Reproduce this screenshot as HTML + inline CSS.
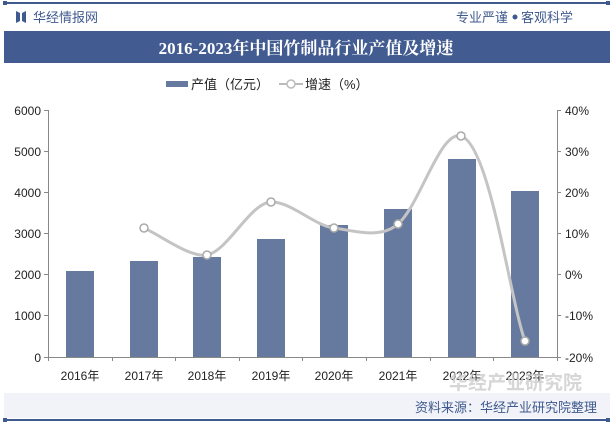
<!DOCTYPE html>
<html><head><meta charset="utf-8"><style>
body{margin:0;width:613px;height:425px;background:#fff;overflow:hidden;font-family:"Liberation Sans","Noto Sans CJK SC",sans-serif;}
</style></head><body>
<svg width="613" height="425" xmlns="http://www.w3.org/2000/svg" font-family="Liberation Sans, Noto Sans CJK SC, sans-serif">
<rect x="4" y="2" width="606" height="2" fill="#3f5a8e"/>
<rect x="3" y="1" width="4" height="4" fill="#3f5a8e"/><rect x="606" y="1" width="4" height="4" fill="#3f5a8e"/>
<path d="M16 11 L20 13 L20 21 L16 23Z M26 11 L22 13 L22 21 L26 23Z" fill="#3f5a8e"/>
<text x="33" y="22" font-size="13" fill="#3f5a8e">华经情报网</text>
<text x="508" y="22" font-size="13" fill="#3f5a8e" text-anchor="end">专业严谨</text>
<circle cx="515" cy="17" r="2.5" fill="#3f5a8e"/>
<text x="521" y="22" font-size="13" fill="#3f5a8e">客观科学</text>
<rect x="4" y="31" width="606" height="32" fill="#425c91"/>
<text x="306" y="54" font-size="17" font-weight="bold" fill="#fff" text-anchor="middle" font-family="Liberation Serif, Noto Serif CJK SC, serif">2016-2023年中国竹制品行业产值及增速</text>
<rect x="166" y="81" width="22" height="6" fill="#66799f"/>
<text x="191" y="89" font-size="13" fill="#222">产值（亿元）</text>
<line x1="279" y1="84" x2="303" y2="84" stroke="#bbb" stroke-width="2"/>
<circle cx="291" cy="84" r="4" fill="#fff" stroke="#bbb" stroke-width="1.5"/>
<text x="305" y="89" font-size="13" fill="#222">增速（%）</text>
<g stroke="#888" stroke-width="1">
<line x1="48.5" y1="110" x2="48.5" y2="357"/>
<line x1="557.5" y1="110" x2="557.5" y2="357"/>
<line x1="48" y1="357.5" x2="557" y2="357.5"/>
</g>
<g stroke="#888">
<line x1="44" y1="110.5" x2="48" y2="110.5"/><line x1="44" y1="151.5" x2="48" y2="151.5"/><line x1="44" y1="192.5" x2="48" y2="192.5"/><line x1="44" y1="233.5" x2="48" y2="233.5"/><line x1="44" y1="274.5" x2="48" y2="274.5"/><line x1="44" y1="315.5" x2="48" y2="315.5"/><line x1="44" y1="357.5" x2="48" y2="357.5"/>
<line x1="557" y1="110.5" x2="561" y2="110.5"/><line x1="557" y1="151.5" x2="561" y2="151.5"/><line x1="557" y1="192.5" x2="561" y2="192.5"/><line x1="557" y1="233.5" x2="561" y2="233.5"/><line x1="557" y1="274.5" x2="561" y2="274.5"/><line x1="557" y1="315.5" x2="561" y2="315.5"/><line x1="557" y1="357.5" x2="561" y2="357.5"/>
<line x1="48.5" y1="357" x2="48.5" y2="361"/><line x1="112.5" y1="357" x2="112.5" y2="361"/><line x1="175.5" y1="357" x2="175.5" y2="361"/><line x1="239.5" y1="357" x2="239.5" y2="361"/><line x1="302.5" y1="357" x2="302.5" y2="361"/><line x1="366.5" y1="357" x2="366.5" y2="361"/><line x1="430.5" y1="357" x2="430.5" y2="361"/><line x1="493.5" y1="357" x2="493.5" y2="361"/><line x1="557.5" y1="357" x2="557.5" y2="361"/>
</g>
<g font-size="12" fill="#222" text-anchor="end">
<text x="41" y="115">6000</text><text x="41" y="156">5000</text><text x="41" y="197">4000</text><text x="41" y="238">3000</text><text x="41" y="279">2000</text><text x="41" y="320">1000</text><text x="41" y="362">0</text>
</g>
<g font-size="12" fill="#222">
<text x="565" y="115">40%</text><text x="565" y="156">30%</text><text x="565" y="197">20%</text><text x="565" y="238">10%</text><text x="565" y="279">0%</text><text x="565" y="320">-10%</text><text x="565" y="362">-20%</text>
</g>
<g fill="#66799f">
<rect x="66" y="271" width="28" height="86"/>
<rect x="130" y="261" width="28" height="96"/>
<rect x="193" y="257" width="28" height="100"/>
<rect x="257" y="239" width="28" height="118"/>
<rect x="320" y="225" width="28" height="132"/>
<rect x="384" y="209" width="28" height="148"/>
<rect x="448" y="159" width="28" height="198"/>
<rect x="511" y="191" width="28" height="166"/>
</g>
<g font-size="12" fill="#222" text-anchor="middle">
<text x="80" y="380">2016年</text><text x="144" y="380">2017年</text><text x="207" y="380">2018年</text><text x="271" y="380">2019年</text><text x="334" y="380">2020年</text><text x="398" y="380">2021年</text><text x="462" y="380">2022年</text><text x="525" y="380">2023年</text>
</g>
<path d="M144 228 C160 235,190 258,207 255 C228 251,250 203,271 202 C290 201,315 226,334 228 C352 230,380 240,398 224 C420 205,440 130,461 136 C490 145,510 300,525 341" fill="none" stroke="#c4c4c4" stroke-width="3"/>
<g fill="#fff" stroke="#aaa" stroke-width="1.5">
<circle cx="144" cy="228" r="4"/><circle cx="207" cy="255" r="4"/><circle cx="271" cy="202" r="4"/><circle cx="334" cy="228" r="4"/><circle cx="398" cy="224" r="4"/><circle cx="461" cy="136" r="4"/><circle cx="525" cy="341" r="4"/>
</g>
<rect x="4" y="393" width="606" height="25" fill="#f1f3f8"/>
<text x="449" y="389" font-size="19" font-weight="bold" fill="#ccc" opacity="0.8">华经产业研究院</text>
<text x="597" y="412" font-size="13" fill="#3f5a8e" text-anchor="end">资料来源：华经产业研究院整理</text>
<rect x="4" y="419" width="606" height="2" fill="#3f5a8e"/>
<rect x="3" y="418" width="4" height="4" fill="#3f5a8e"/><rect x="606" y="418" width="4" height="4" fill="#3f5a8e"/>
</svg>
</body></html>
